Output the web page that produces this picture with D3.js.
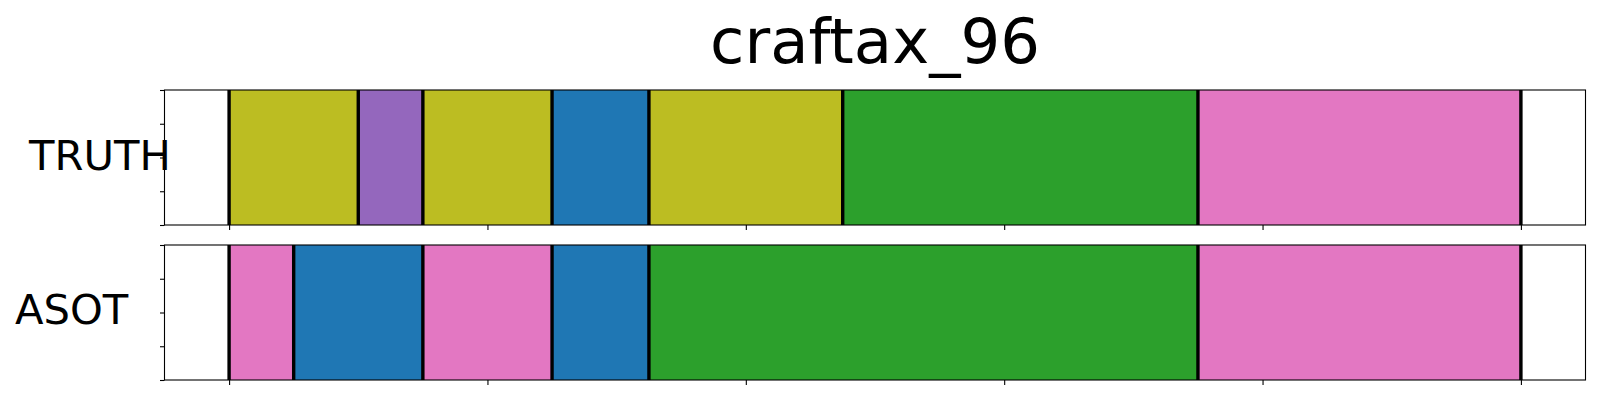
<!DOCTYPE html>
<html>
<head>
<meta charset="utf-8">
<script src="https://cdn.jsdelivr.net/npm/d3@7"></script>
<style>
  html, body { margin: 0; padding: 0; background: #fff; }
  svg { display: block; font-family: "DejaVu Sans", sans-serif; }
</style>
</head>
<body>
<svg id="chart" width="1600" height="400"></svg>
<script>
// ---- data ----
const title = "craftax_96";
const rowLabels = ["TRUTH", "ASOT"];
const truthBounds = [0, 10, 15, 25, 32.5, 47.5, 75, 100];
const truthActions = [8, 4, 8, 0, 8, 2, 6];
const asotBounds = [0, 5, 15, 25, 32.5, 75, 100];
const asotActions = [6, 0, 6, 0, 2, 6];
const xTicks = [0, 20, 40, 60, 80, 100];
const yTicks = [0, 0.25, 0.5, 0.75, 1];

// ---- layout ----
const svg = d3.select("#chart");
const left = 164.5, right = 1585.5;
const panels = [
  { label: rowLabels[0], bounds: truthBounds, actions: truthActions, top: 90, bottom: 225, lx: 29, ly: 169.5 },
  { label: rowLabels[1], bounds: asotBounds, actions: asotActions, top: 245, bottom: 380, lx: 15, ly: 323.5 }
];
const color = i => d3.schemeCategory10[i];
const x = d3.scaleLinear().domain([-5, 105]).range([left, right]);

svg.append("text")
  .attr("x", (left + right) / 2)
  .attr("y", 62.5)
  .attr("text-anchor", "middle")
  .attr("font-size", 62.5)
  .attr("fill", "#000")
  .text(title);

panels.forEach((p, pi) => {
  const y = d3.scaleLinear().domain([0, 1]).range([p.bottom, p.top]);
  const g = svg.append("g");
  const clipId = "clip" + pi;
  svg.append("defs").append("clipPath").attr("id", clipId)
    .append("rect").attr("x", left).attr("y", p.top)
    .attr("width", right - left).attr("height", p.bottom - p.top);

  const segs = p.actions.map((a, i) => ({ a, s: p.bounds[i], e: p.bounds[i + 1] }));
  const inner = g.append("g").attr("clip-path", `url(#${clipId})`);
  inner.selectAll("rect.seg").data(segs).join("rect")
    .attr("class", "seg")
    .attr("x", d => x(d.s))
    .attr("width", d => x(d.e) - x(d.s))
    .attr("y", y(1))
    .attr("height", y(0) - y(1))
    .attr("fill", d => color(d.a));

  inner.selectAll("line.bnd").data(p.bounds).join("line")
    .attr("class", "bnd")
    .attr("x1", d => x(d)).attr("x2", d => x(d))
    .attr("y1", y(1)).attr("y2", y(0))
    .attr("stroke", "#000")
    .attr("stroke-width", 3.4);

  // axes
  const xAxis = d3.axisBottom(x).tickValues(xTicks).tickFormat("").tickSize(5).tickSizeOuter(0);
  const yAxis = d3.axisLeft(y).tickValues(yTicks).tickFormat("").tickSize(4.5).tickSizeOuter(0);
  const gx = g.append("g").attr("transform", `translate(0,${p.bottom})`).call(xAxis);
  const gy = g.append("g").attr("transform", `translate(${left},0)`).call(yAxis);
  [gx, gy].forEach(a => {
    a.select(".domain").remove();
    a.selectAll(".tick line").attr("stroke", "#000").attr("stroke-width", 1.1);
  });

  g.append("rect")
    .attr("x", left).attr("y", p.top)
    .attr("width", right - left).attr("height", p.bottom - p.top)
    .attr("fill", "none").attr("stroke", "#000").attr("stroke-width", 1.1);

  svg.append("text")
    .attr("x", p.lx).attr("y", p.ly)
    .attr("font-size", 41.7)
    .attr("fill", "#000")
    .text(p.label);
});
</script>
</body>
</html>
